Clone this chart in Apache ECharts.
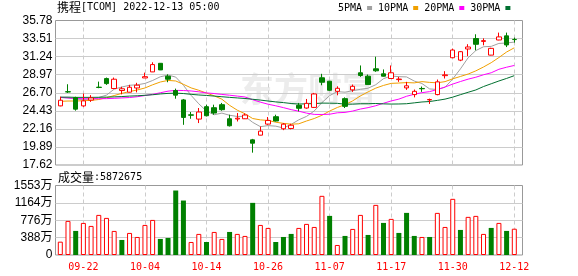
<!DOCTYPE html>
<html><head><meta charset="utf-8">
<script src="https://cdn.jsdelivr.net/npm/echarts@6/dist/echarts.min.js"></script>
<style>html,body{margin:0;padding:0;background:#fff}#c{width:578px;height:276px}</style>
</head><body><div id="c"></div>
<script>
const dates = ['09-19','09-20','09-21','09-22','09-23','09-26','09-27','09-28','09-29','09-30',
  '10-03','10-04','10-05','10-06','10-07','10-10','10-11','10-12','10-13','10-14',
  '10-17','10-18','10-19','10-20','10-21','10-24','10-25','10-26','10-27','10-28',
  '10-31','11-01','11-02','11-03','11-04','11-07','11-08','11-09','11-10','11-11',
  '11-14','11-15','11-16','11-17','11-18','11-21','11-22','11-23','11-25','11-28',
  '11-29','11-30','12-01','12-02','12-05','12-06','12-07','12-08','12-09','12-12'];
const opens = [25.05,26.83,26.10,25.05,25.78,27.40,28.48,27.23,26.98,26.77,
  27.30,28.56,29.32,30.40,28.77,26.97,25.80,23.92,23.39,24.95,
  24.82,25.20,23.43,23.40,23.43,20.78,21.37,22.76,23.69,22.17,
  22.21,25.12,24.78,24.86,28.58,28.15,26.88,25.96,27.06,29.21,
  28.78,29.71,29.08,28.49,28.35,27.31,26.47,27.24,25.80,26.47,
  28.85,31.10,30.80,32.20,33.51,33.15,31.43,33.33,33.85,33.40];
const closes = [25.76,26.80,24.64,25.68,26.05,27.36,27.85,28.40,27.20,27.39,
  27.65,28.72,30.24,29.57,28.40,26.40,23.60,23.88,24.28,23.81,
  24.15,24.57,22.55,23.50,23.90,20.36,21.88,23.22,23.15,22.75,
  22.62,24.75,25.37,26.55,28.02,27.01,27.26,24.99,27.51,28.87,
  27.73,29.46,28.78,29.21,28.42,27.57,26.88,27.20,25.85,28.07,
  28.95,32.07,31.86,32.45,32.79,33.25,32.28,33.72,32.71,33.38];
const lows = [25.00,26.68,24.45,24.93,25.55,27.27,27.69,27.20,26.50,26.75,
  26.75,28.56,29.30,29.55,28.02,25.95,22.67,23.43,22.89,23.72,
  23.94,24.44,22.46,23.09,23.40,19.17,21.35,22.67,23.09,22.00,
  22.10,24.36,24.70,24.78,27.64,26.95,26.38,24.78,26.81,28.70,
  27.70,29.33,28.74,28.47,28.07,27.06,26.12,26.81,25.29,26.38,
  28.49,31.05,30.67,31.30,32.03,32.66,31.40,33.30,32.44,33.00];
const highs = [26.20,27.77,26.20,26.60,26.40,28.10,28.61,28.61,27.45,27.69,
  27.95,29.23,30.53,30.42,29.02,27.22,25.92,24.28,24.78,25.20,
  25.20,25.42,23.94,24.15,24.10,20.90,22.46,23.65,23.94,22.89,
  22.80,25.42,25.92,26.68,29.08,28.20,27.51,26.12,27.73,30.13,
  28.99,31.23,29.63,30.13,28.70,28.07,27.10,27.48,25.96,28.36,
  29.41,32.24,31.94,32.80,34.05,33.54,32.35,34.26,34.26,33.63];
const ma5 = [26.10,26.05,25.90,25.85,25.80,26.11,26.40,27.15,27.42,27.64,
  27.70,27.87,28.24,28.71,28.92,28.67,27.64,26.37,25.31,24.39,
  23.94,24.14,23.87,23.72,23.73,22.98,22.44,22.57,22.50,22.27,
  22.72,23.30,23.73,24.41,25.46,26.34,26.84,26.77,26.96,27.13,
  27.27,27.71,28.47,28.81,28.72,28.69,28.17,27.86,27.18,27.11,
  27.39,28.43,29.70,31.10,32.00,32.48,32.53,32.90,32.95,33.07];
const ma10 = [25.62,25.66,25.66,25.70,25.74,25.85,26.08,26.35,26.62,26.85,
  27.05,27.30,27.70,28.05,28.25,28.18,27.76,27.31,27.01,26.66,
  26.31,25.89,25.12,24.51,24.06,23.46,23.29,23.22,23.00,22.85,
  22.75,22.80,23.15,23.46,23.87,24.40,24.85,25.20,25.68,26.30,
  26.81,27.28,27.62,27.88,27.92,27.98,27.94,28.10,28.00,27.95,
  28.10,28.45,28.75,29.05,29.45,29.94,30.48,31.13,31.82,32.35];
const ma20 = [26.12,26.05,25.98,25.95,25.95,25.95,25.96,26.00,26.05,26.10,
  26.20,26.35,26.50,26.70,26.90,27.00,26.98,26.92,26.82,26.68,
  26.60,26.49,26.39,26.28,26.17,25.82,25.52,25.26,25.06,24.83,
  24.58,24.38,24.14,23.98,23.97,24.00,24.18,24.23,24.40,24.65,
  24.83,25.07,25.38,25.67,25.90,26.26,26.51,26.71,26.84,27.11,
  27.42,27.79,28.11,28.41,28.65,28.96,29.21,29.65,29.91,30.13];
const ma30 = [26.15,26.15,26.12,26.12,26.12,26.13,26.15,26.18,26.22,26.28,
  26.32,26.38,26.45,26.55,26.62,26.65,26.60,26.50,26.42,26.36,
  26.28,26.20,26.12,26.05,25.98,25.88,25.78,25.66,25.55,25.46,
  25.35,25.28,25.31,25.34,25.40,25.39,25.37,25.26,25.27,25.32,
  25.32,25.35,25.30,25.28,25.29,25.32,25.43,25.54,25.60,25.74,
  25.90,26.15,26.46,26.76,27.05,27.48,27.83,28.18,28.50,28.85];
const volumes = [298,762,538,717,650,896,829,538,336,493,
  403,672,784,359,381,1441,1217,291,471,291,
  515,359,515,471,426,1165,672,605,291,403,
  471,605,695,627,1322,874,224,426,583,896,
  448,1120,717,807,493,941,426,403,403,941,
  627,1255,560,852,874,471,605,717,538,587.27];
const priceTicks = ['17.62','19.89','22.16','24.43','26.70','28.97','31.24','33.51','35.78'];
const volTicks = ['0','388万','776万','1164万','1553万'];
const volMax = 1553;
const xTickLabels = ['09-22','10-04','10-14','10-26','11-07','11-17','11-30','12-12'];
const maNames = ['5PMA','10PMA','20PMA','30PMA'];
const maColors = ['#a0a0a0','#f0a000','#ff00ff','#007030'];
const titleMain = '携程[TCOM] 2022-12-13 05:00';
const volTitle = '成交量:5872675';

const RED = '#ff0000', GREEN = '#008000';
const chart = echarts.init(document.getElementById('c'), null, {renderer: 'canvas'});
const labelFont = 'Liberation Sans, Noto Sans CJK SC';
const showTick = (i, v) => xTickLabels.indexOf(v) >= 0;

const frameGrid = (top, height) => ({left: 55.5, top: top, width: 467, height: height, show: true,
  borderColor: '#999', borderWidth: 1, backgroundColor: 'transparent', outerBoundsMode: 'none'});
const dataGrid = (top, height) => ({left: 60.3, top: top, width: 454, height: height, show: false, outerBoundsMode: 'none'});

const catAxis = (gridIndex, withLabels) => ({
  type: 'category', gridIndex: gridIndex, data: dates, boundaryGap: false,
  axisLine: {show: false}, axisTick: {show: false},
  axisLabel: withLabels ? {show: true, interval: showTick, color: RED, fontFamily: 'DejaVu Sans Mono', fontSize: 10, margin: 7} : {show: false},
  splitLine: {show: true, interval: showTick, lineStyle: {color: '#cccccc', type: [4, 3], width: 1}}
});

const maSeries = [ma5, ma10, ma20, ma30].map((d, k) => ({
  name: maNames[k], type: 'line', xAxisIndex: 1, yAxisIndex: 1, data: d,
  showSymbol: false, symbol: 'none', silent: true, z: 3,
  lineStyle: {width: 1, color: maColors[k]}, itemStyle: {color: maColors[k]}
}));

const volData = volumes.map((v, i) => {
  const up = i === 0 ? closes[0] >= opens[0] : closes[i] >= closes[i - 1];
  return {value: v, itemStyle: up ? {color: '#ffffff', borderColor: RED, borderWidth: 1} : {color: GREEN, borderColor: GREEN, borderWidth: 0}};
});

chart.setOption({
  animation: false,
  backgroundColor: '#ffffff',
  title: [
    {text: '{a|携程}{b|' + titleMain.slice(2) + '}', left: 57, top: 1, padding: 0,
      textStyle: {fontSize: 12, fontWeight: 'normal', color: '#000',
        rich: {a: {fontSize: 12, fontFamily: 'Noto Sans CJK SC', color: '#000'},
               b: {fontSize: 10, fontFamily: 'DejaVu Sans Mono', color: '#000'}}}},
    {text: '{a|成交量}{b|' + volTitle.slice(3) + '}', left: 58, top: 171, padding: 0,
      textStyle: {fontSize: 12, fontWeight: 'normal', color: '#000',
        rich: {a: {fontSize: 12, fontFamily: 'Noto Sans CJK SC', color: '#000'},
               b: {fontSize: 10, fontFamily: 'DejaVu Sans Mono', color: '#000'}}}}
  ],
  legend: {left: 338, top: 3, padding: 0, align: 'right', icon: 'rect', itemWidth: 5, itemHeight: 4, itemGap: 6,
    selectedMode: false, data: maNames,
    textStyle: {fontFamily: 'DejaVu Sans Mono', fontSize: 10, color: '#000'}},
  graphic: [{type: 'text', left: 240, top: 72, z: 0, silent: true,
    style: {text: '东方财富', fontSize: 34, fontWeight: 'bold', fontFamily: 'Noto Sans CJK SC', fill: '#ececec'}}],
  grid: [frameGrid(20.5, 144.5), dataGrid(20.5, 144.5), frameGrid(185.5, 69.5), dataGrid(185.5, 69.5)],
  xAxis: [
    {type: 'value', gridIndex: 0, show: false, min: 0, max: 1},
    catAxis(1, false),
    {type: 'value', gridIndex: 2, show: false, min: 0, max: 1},
    catAxis(3, true)
  ],
  yAxis: [
    {type: 'value', gridIndex: 0, min: 0, max: priceTicks.length - 1, interval: 1,
      axisLine: {show: false}, axisTick: {show: false},
      axisLabel: {formatter: v => priceTicks[Math.round(v)], color: '#000', fontFamily: labelFont, fontSize: 12, margin: 3},
      splitLine: {show: true, showMinLine: false, showMaxLine: false, lineStyle: {color: '#cccccc', width: 1}}},
    {type: 'value', gridIndex: 1, min: Number(priceTicks[0]), max: Number(priceTicks[priceTicks.length - 1]), show: false},
    {type: 'value', gridIndex: 2, min: 0, max: volTicks.length - 1, interval: 1,
      axisLine: {show: false}, axisTick: {show: false},
      axisLabel: {formatter: v => volTicks[Math.round(v)], color: '#000', fontFamily: labelFont, fontSize: 12, margin: 3},
      splitLine: {show: true, showMinLine: false, showMaxLine: false, lineStyle: {color: '#cccccc', width: 1}}},
    {type: 'value', gridIndex: 3, min: 0, max: volMax, show: false}
  ],
  series: [
    {name: 'K', type: 'candlestick', xAxisIndex: 1, yAxisIndex: 1, barWidth: 5, clip: false, z: 4,
      data: dates.map((d, i) => [opens[i], closes[i], lows[i], highs[i]]),
      itemStyle: {color: '#ffffff', color0: GREEN, borderColor: RED, borderColor0: GREEN, borderWidth: 1}},
    ...maSeries,
    {name: 'VOL', type: 'bar', xAxisIndex: 3, yAxisIndex: 3, barWidth: 5, clip: false, data: volData}
  ]
});
</script>
</body></html>
